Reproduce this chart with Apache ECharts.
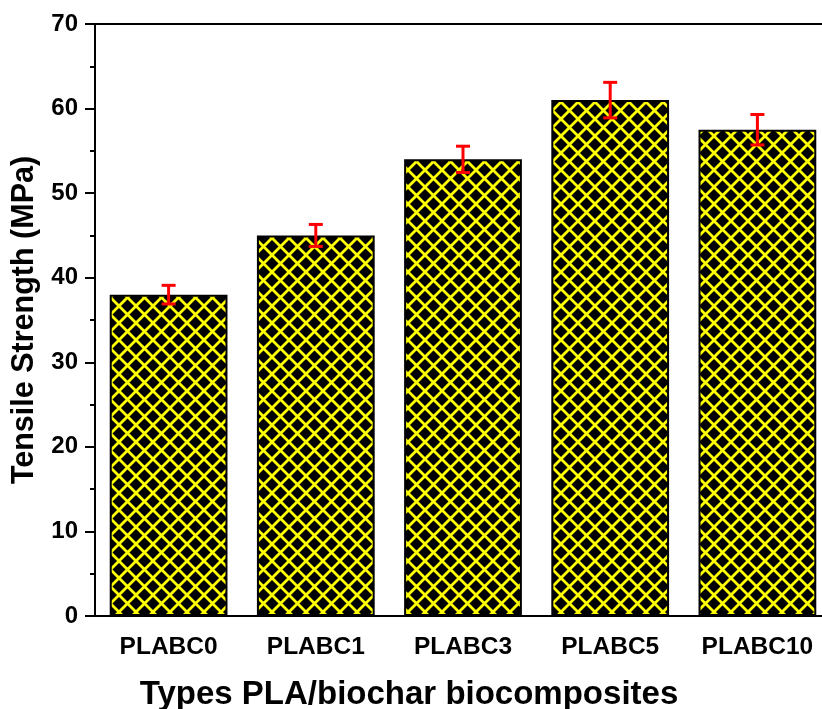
<!DOCTYPE html>
<html>
<head>
<meta charset="utf-8">
<script src="https://cdn.jsdelivr.net/npm/echarts@6/dist/echarts.min.js"></script>
<style>
  html, body { margin: 0; padding: 0; background: #fff; overflow: hidden; }
  #chart { width: 822px; height: 709px; }
</style>
</head>
<body>
<div id="chart"></div>
<script>
const CATEGORIES = ["PLABC0", "PLABC1", "PLABC3", "PLABC5", "PLABC10"];
const STRENGTH = [38, 45, 54, 61, 57.5];
const ERRORS = [1.1, 1.3, 1.55, 2.1, 1.8];
const Y_TICKS = { min: 0, max: 70, interval: 10 };

const FONT = "'Liberation Sans', Arial, sans-serif";

// black tile with yellow crosshatch
function makeHatch() {
  const s = 17;
  const c = document.createElement("canvas");
  c.width = s;
  c.height = s;
  const ctx = c.getContext("2d");
  ctx.fillStyle = "#000";
  ctx.fillRect(0, 0, s, s);
  ctx.strokeStyle = "#ffff00";
  ctx.lineWidth = 2.8;
  ctx.beginPath();
  for (const off of [-s, 0, s]) {
    ctx.moveTo(-2 + off, -2);
    ctx.lineTo(s + 2 + off, s + 2);
    ctx.moveTo(s + 2 + off, -2);
    ctx.lineTo(-2 + off, s + 2);
  }
  ctx.stroke();
  return c;
}

const errData = STRENGTH.map((v, i) => [i, v - ERRORS[i], v + ERRORS[i]]);

const chart = echarts.init(document.getElementById("chart"), null, { renderer: "canvas" });

chart.setOption({
  backgroundColor: "#fff",
  animation: false,
  grid: {
    left: 95,
    top: 24,
    right: -9,
    bottom: 93,
    containLabel: false,
    outerBoundsMode: "none",
    show: true,
    borderColor: "#000",
    borderWidth: 2,
    backgroundColor: "transparent",
  },
  xAxis: {
    type: "category",
    data: CATEGORIES,
    name: "Types PLA/biochar biocomposites",
    nameLocation: "middle",
    nameGap: 62,
    // plot runs past the right edge, so pull the title back toward the page centre
    nameTextStyle: {
      color: "#000",
      fontFamily: FONT,
      fontWeight: "bold",
      fontSize: 33,
      padding: [0, 108, 0, 0],
    },
    axisLine: { lineStyle: { color: "#000", width: 2 } },
    axisTick: { alignWithLabel: true, length: 10, lineStyle: { color: "#000", width: 2 } },
    axisLabel: { color: "#000", fontFamily: FONT, fontWeight: "bold", fontSize: 24.5, margin: 19 },
  },
  yAxis: {
    type: "value",
    min: Y_TICKS.min,
    max: Y_TICKS.max,
    interval: Y_TICKS.interval,
    name: "Tensile Strength (MPa)",
    nameLocation: "middle",
    nameGap: 47,
    nameTextStyle: { color: "#000", fontFamily: FONT, fontWeight: "bold", fontSize: 30.5 },
    axisLine: { show: true, lineStyle: { color: "#000", width: 2 } },
    axisTick: { show: true, length: 10, lineStyle: { color: "#000", width: 2 } },
    minorTick: { show: true, splitNumber: 2, length: 5, lineStyle: { color: "#000", width: 2 } },
    splitLine: { show: false },
    axisLabel: { color: "#000", fontFamily: FONT, fontWeight: "bold", fontSize: 24, margin: 17 },
  },
  series: [
    {
      type: "bar",
      data: STRENGTH,
      barCategoryGap: "20%",
      itemStyle: {
        color: { image: makeHatch(), repeat: "repeat" },
        borderColor: "#000",
        borderWidth: 2,
      },
    },
    {
      type: "custom",
      data: errData,
      encode: { x: 0, y: [1, 2] },
      z: 5,
      renderItem: (params, api) => {
        const lo = api.coord([api.value(0), api.value(1)]);
        const hi = api.coord([api.value(0), api.value(2)]);
        const half = 7;
        const style = { stroke: "#ff0000", lineWidth: 3 };
        return {
          type: "group",
          children: [
            { type: "line", shape: { x1: lo[0], y1: lo[1], x2: hi[0], y2: hi[1] }, style },
            { type: "line", shape: { x1: hi[0] - half, y1: hi[1], x2: hi[0] + half, y2: hi[1] }, style },
            { type: "line", shape: { x1: lo[0] - half, y1: lo[1], x2: lo[0] + half, y2: lo[1] }, style },
          ],
        };
      },
    },
  ],
});
</script>
</body>
</html>
